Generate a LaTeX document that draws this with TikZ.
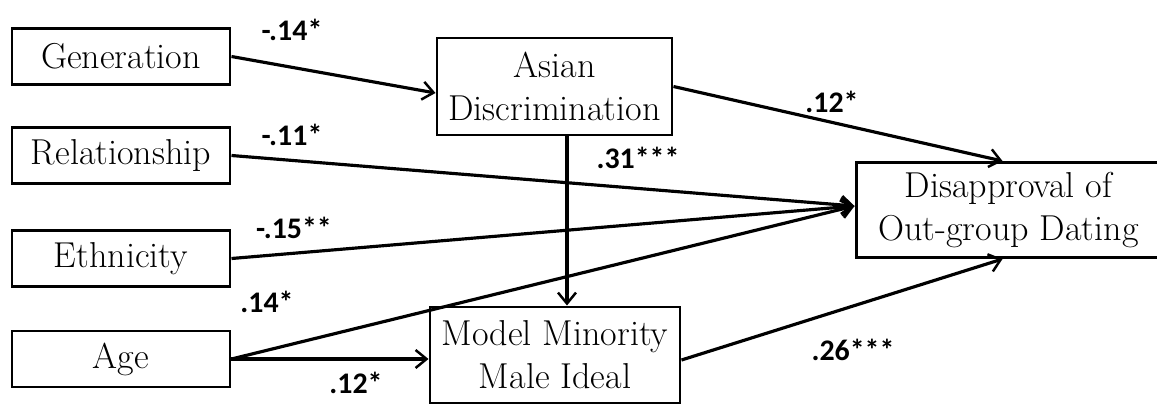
\documentclass[tikz,border=0pt]{standalone}
\usepackage{fontspec}
\newfontfamily\labelfont{Carlito}
\usetikzlibrary{arrows.meta, positioning, calc}

\begin{document}
\begin{tikzpicture}[
    box/.style={rectangle, draw, line width=1.7pt, minimum height=1.12cm, align=center, inner sep=1pt, font=\fontsize{20.5}{24.5}\selectfont},
    coef/.style={font=\labelfont\bfseries\fontsize{17}{20}\selectfont, inner sep=1pt},
    arrow/.style={-{Straight Barb[length=2.2mm, width=3.6mm, line width=1.4pt]}, line width=1.8pt},
]
\useasboundingbox (0,0) rectangle (23.14,8.1);

% Predictors
\node[box, minimum width=4.36cm] (gen) at (2.42,6.97) {Generation};
\node[box, minimum width=4.36cm] (rel) at (2.42,4.99) {Relationship};
\node[box, minimum width=4.36cm] (eth) at (2.42,2.93) {Ethnicity};
\node[box, minimum width=4.36cm] (age) at (2.42,0.92) {Age};

% Mediators and outcome
\node[box, minimum width=4.7cm, minimum height=1.94cm] (asian) at (11.09,6.37) {Asian\\Discrimination};
\node[box, minimum width=5.0cm, minimum height=1.92cm] (model) at (11.1,1.0) {Model Minority\\Male Ideal};
\node[box, minimum width=6.1cm, minimum height=1.9cm] (disap) at (20.17,3.9) {Disapproval of\\Out-group Dating};

\coordinate (conv) at ([yshift=0.08cm]disap.west);

\draw[arrow] (gen.east) -- ([yshift=-0.13cm]asian.west);
\draw[arrow] (asian.east) -- ([xshift=-0.12cm]disap.north);
\draw[arrow] (rel.east) -- (conv);
\draw[arrow] (eth.east) -- (conv);
\draw[arrow] (age.east) -- (conv);
\draw[arrow] (age.east) -- (age.east -| model.west);
\draw[arrow] (11.34,0 |- asian.south) -- (11.34,0 |- model.north);
\draw[arrow] ([yshift=-0.1cm]model.east) -- ([xshift=-0.12cm]disap.south);

% Coefficients
\node[coef] (c1) at (5.84,7.5) {-.14*};
\node[coef] (c2) at (5.84,5.4) {-.11*};
\node[coef] (c3) at (5.88,3.54) {-.15**};
\node[coef] (c4) at (5.34,2.06) {.14*};
\node[coef] (c5) at (7.12,0.44) {.12*};
\node[coef] (c6) at (12.76,4.94) {.31***};
\node[coef] (c7) at (16.64,6.06) {.12*};
\node[coef] (c8) at (17.06,1.1) {.26***};

\end{tikzpicture}
\end{document}
